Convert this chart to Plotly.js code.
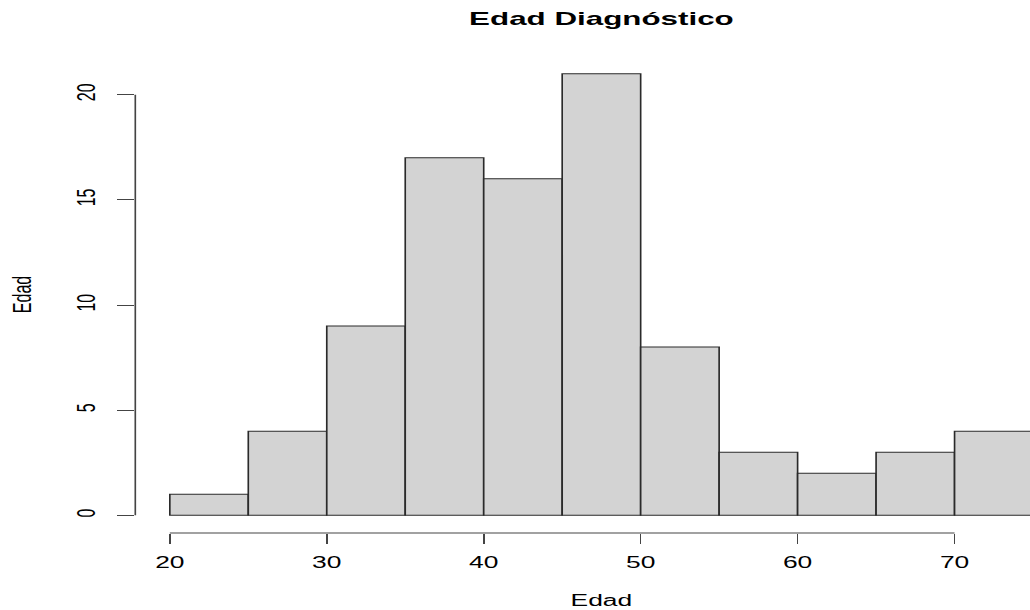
<!DOCTYPE html>
<html>
<head>
<meta charset="utf-8">
<script src="https://cdn.plot.ly/plotly-3.0.1.min.js"></script>
<style>
  html, body { margin: 0; padding: 0; background: #ffffff; }
  #wrap { width: 1030px; height: 610px; overflow: hidden; position: relative; }
  #plot { width: 647px; height: 610px; transform: scaleX(1.65); transform-origin: 0 0; }
</style>
</head>
<body>
<div id="wrap"><div id="plot"></div></div>
<script>
// Histogram bins (left edges), bin width and counts
const binStarts = [20, 25, 30, 35, 40, 45, 50, 55, 60, 65, 70];
const binWidth = 5;
const counts = [1, 4, 9, 17, 16, 21, 8, 3, 2, 3, 4];

// Axis ticks
const xTicks = [20, 30, 40, 50, 60, 70];
const yTicks = [0, 5, 10, 15, 20];

const titleText = 'Edad Diagnóstico';
const xTitle = 'Edad';
const yTitle = 'Edad';

const FONT = '"Liberation Sans", Arial, Helvetica, sans-serif';

const xLo = binStarts[0];
const xHi = binStarts[binStarts.length - 1] + binWidth;
const yHi = Math.max(...counts);
const xPad = (xHi - xLo) * 0.04;
const yPad = yHi * 0.04;

const trace = {
  type: 'bar',
  x: binStarts,
  y: counts,
  width: binStarts.map(() => binWidth),
  offset: 0,
  marker: { color: '#d3d3d3', line: { color: '#2a2a2a', width: 1 } },
  hoverinfo: 'skip'
};

const layout = {
  width: 647,
  height: 610,
  margin: { l: 82, r: 0, t: 56, b: 77 },
  paper_bgcolor: '#ffffff',
  plot_bgcolor: '#ffffff',
  showlegend: false,
  bargap: 0,
  font: { family: FONT, size: 16, color: '#000000' },
  title: {
    text: titleText,
    font: { family: FONT, size: 19, weight: 'bold', color: '#000000' },
    xref: 'paper', x: 0.5, xanchor: 'center',
    yref: 'container', y: 1 - 18 / 610, yanchor: 'middle'
  },
  xaxis: {
    range: [xLo - xPad, xHi + xPad],
    tickvals: xTicks,
    ticktext: xTicks.map(String),
    ticks: 'outside', ticklen: 10, tickwidth: 1, tickcolor: '#444444',
    showline: false, showgrid: false, zeroline: false,
    tickfont: { family: FONT, size: 16, color: '#000000' },
    ticklabelstandoff: 5,
    title: { text: xTitle, font: { family: FONT, size: 16, color: '#000000' }, standoff: 24 }
  },
  yaxis: {
    range: [-yPad, yHi + yPad],
    tickvals: yTicks,
    ticktext: yTicks.map(String),
    tickangle: -90,
    ticks: 'outside', ticklen: 10, tickwidth: 1, tickcolor: '#444444',
    showline: false, showgrid: false, zeroline: false,
    tickfont: { family: FONT, size: 16, color: '#000000' },
    ticklabelstandoff: 7,
    title: { text: yTitle, font: { family: FONT, size: 16, color: '#000000' }, standoff: 20 }
  },
  shapes: [
    { type: 'line', xref: 'paper', x0: 0, x1: 0, yref: 'y',
      y0: yTicks[0], y1: yTicks[yTicks.length - 1],
      line: { color: '#444444', width: 1 }, layer: 'above' },
    { type: 'line', yref: 'paper', y0: 0, y1: 0, xref: 'x',
      x0: xTicks[0], x1: xTicks[xTicks.length - 1],
      line: { color: '#444444', width: 1 }, layer: 'above' }
  ]
};

Plotly.newPlot('plot', [trace], layout, { displayModeBar: false, staticPlot: true, responsive: false });
</script>
</body>
</html>
